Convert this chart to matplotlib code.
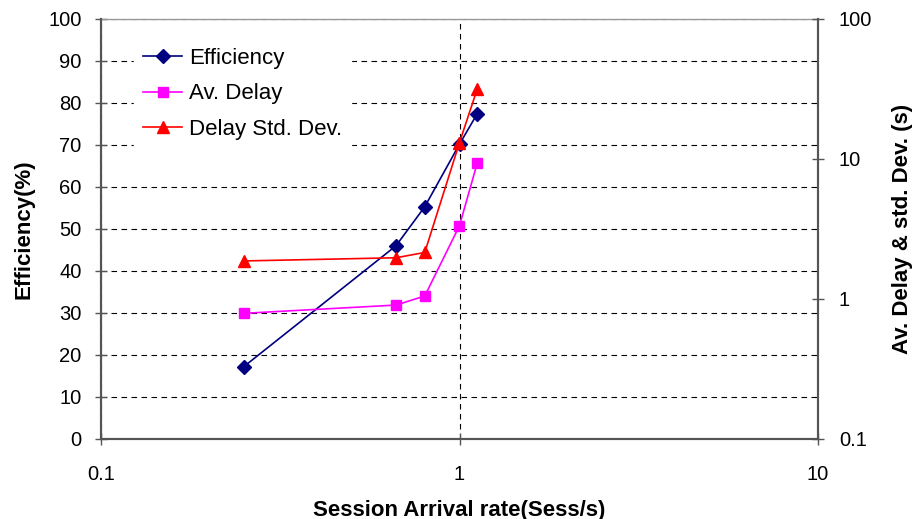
import matplotlib
matplotlib.use("Agg")
import matplotlib.pyplot as plt
from matplotlib.ticker import FixedLocator, FixedFormatter, NullLocator

plt.rcParams['font.family'] = ['Liberation Sans', 'DejaVu Sans']

# Session arrival rates (Sess/s)
arrival_rate = [0.25, 0.665, 0.80, 1.0, 1.12]
# Efficiency (%)
efficiency = [17.2, 46.0, 55.3, 70.2, 77.4]
# Average delay (s)
av_delay = [0.79, 0.905, 1.05, 3.34, 9.3]
# Delay standard deviation (s)
delay_std = [1.87, 1.97, 2.15, 13.1, 31.5]

x_ticks = [0.1, 1, 10]
x_tick_labels = ["0.1", "1", "10"]
left_ticks = list(range(0, 101, 10))
right_ticks = [0.1, 1, 10, 100]
right_tick_labels = ["0.1", "1", "10", "100"]

fig = plt.figure(figsize=(9.13, 5.19), dpi=100)
ax = fig.add_axes([101/913, 80/519, 717/913, 420/519])
ax2 = ax.twinx()

tick_fs = 14.5
label_fs = 16
spine_col = '#555555'

# left axis: efficiency, linear
ax.set_xscale('log')
ax.set_xlim(0.1, 10)
ax.set_ylim(0, 100)
ax.xaxis.set_major_locator(FixedLocator(x_ticks))
ax.xaxis.set_major_formatter(FixedFormatter(x_tick_labels))
ax.xaxis.set_minor_locator(NullLocator())
ax.yaxis.set_major_locator(FixedLocator(left_ticks))
ax.set_yticklabels([str(v) for v in left_ticks])
ax.grid(True, which='major', color='black', linestyle=(0, (5, 4)), linewidth=0.8)
ax.set_axisbelow(True)
ax.tick_params(axis='both', which='major', direction='inout', length=8,
               width=1, color=spine_col, labelsize=tick_fs, pad=10)
ax.tick_params(axis='x', pad=15)

for side in ['left', 'bottom', 'right']:
    ax.spines[side].set_color(spine_col)
    ax.spines[side].set_linewidth(1.5)
ax.spines['top'].set_color('#999999')
ax.spines['top'].set_linewidth(1.0)

ax.plot(arrival_rate, efficiency, color='#000080', marker='D', markersize=7,
        linewidth=1.2, label='Efficiency', zorder=3)

# right axis: delays, log scale
ax2.set_yscale('log')
ax2.set_ylim(0.1, 100)
ax2.yaxis.set_major_locator(FixedLocator(right_ticks))
ax2.yaxis.set_major_formatter(FixedFormatter(right_tick_labels))
ax2.yaxis.set_minor_locator(NullLocator())
ax2.tick_params(axis='y', which='major', direction='inout', length=8,
                width=1, color=spine_col, labelsize=tick_fs, pad=11)
for side in ['left', 'bottom', 'right']:
    ax2.spines[side].set_color(spine_col)
    ax2.spines[side].set_linewidth(1.5)
ax2.spines['top'].set_visible(False)

ax2.plot(arrival_rate, av_delay, color='#FF00FF', marker='s', markersize=6.5,
         linewidth=1.2, label='Av. Delay')
ax2.plot(arrival_rate, delay_std, color='#FF0000', marker='^', markersize=8,
         linewidth=1.2, label='Delay Std. Dev.')

ax.set_xlabel('Session Arrival rate(Sess/s)', fontsize=label_fs, fontweight='bold', labelpad=11)
ax.set_ylabel('Efficiency(%)', fontsize=label_fs, fontweight='bold', labelpad=10)
ax2.set_ylabel('Av. Delay & std. Dev. (s)', fontsize=label_fs, fontweight='bold', labelpad=14)

handles = ax.get_lines()[:1] + ax2.get_lines()
leg = ax2.legend(handles, [h.get_label() for h in handles], loc='upper left',
                 bbox_to_anchor=(0.031, 0.978), fontsize=label_fs, frameon=True,
                 fancybox=False, edgecolor='white', facecolor='white', framealpha=1,
                 handlelength=1.75, handletextpad=0.3, labelspacing=0.64,
                 borderpad=0.4)

fig.savefig('out.png', dpi=100)
